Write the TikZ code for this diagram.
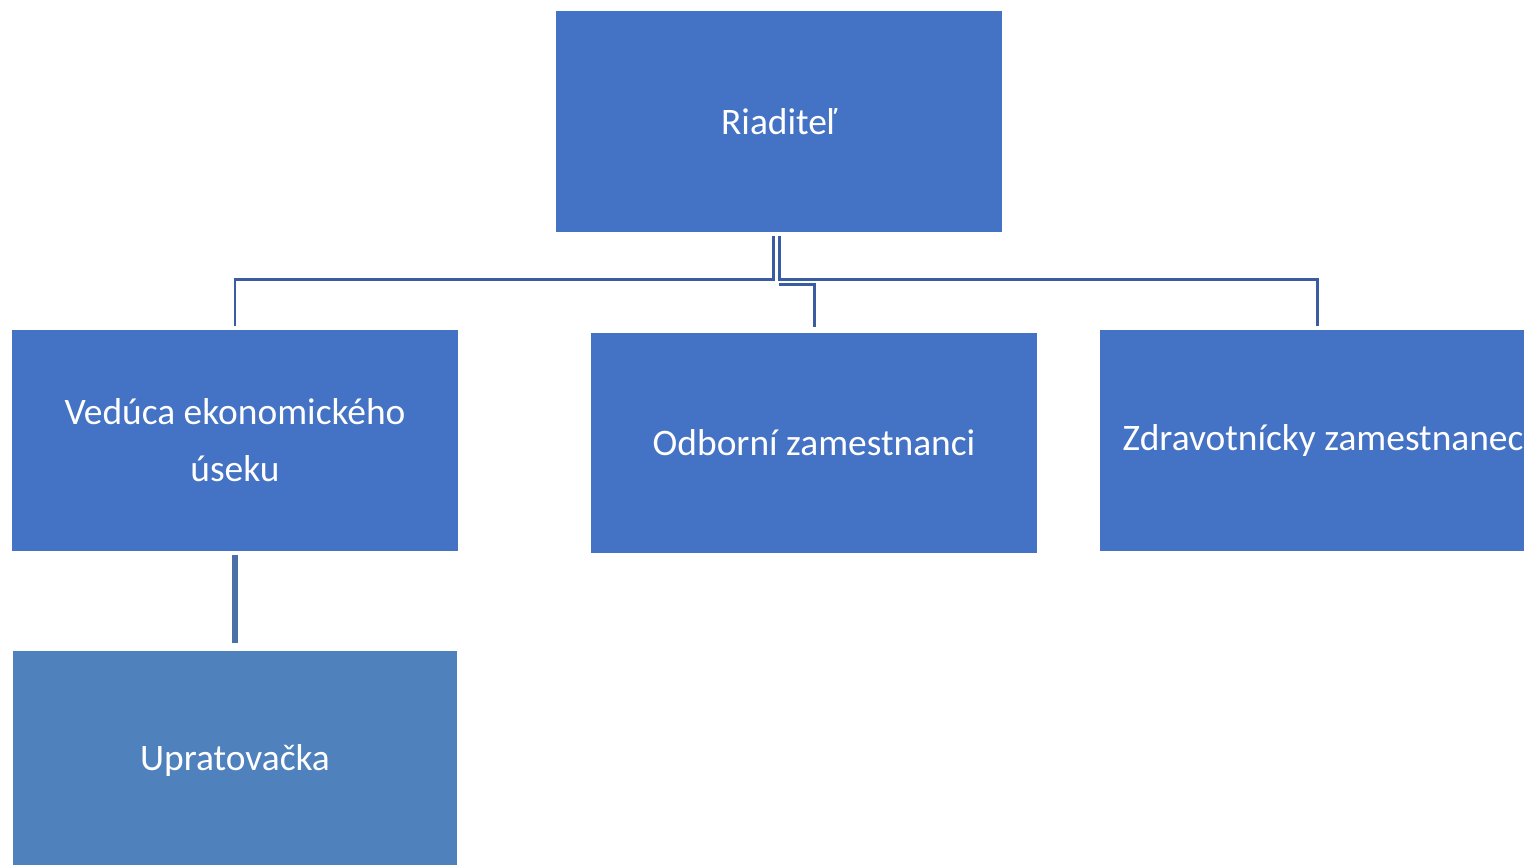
\documentclass[tikz,border=0pt]{standalone}
\usepackage{fontspec}
\setmainfont{Carlito}
\definecolor{boxblue}{HTML}{4472C4}
\definecolor{lowblue}{HTML}{4F81BD}
\definecolor{linkblue}{HTML}{3A5DA2}
\definecolor{lowlink}{HTML}{4A70A8}

\begin{document}
\begin{tikzpicture}[x=0.02cm,y=-0.02cm,
  unit/.style={fill=boxblue,text=white,minimum width=8.92cm,minimum height=4.42cm,inner sep=0pt,
    align=center,font=\fontsize{21.3}{32.3}\selectfont},
  link/.style={linkblue,line width=1.7pt}]
\useasboundingbox (0,0) rectangle (1524,865);
\node[unit] (boss) at (779,121.5) {Riadite\v{l}};
\node[unit] (veduca) at (235,440.5) {Vedúca ekonomického\\úseku};
\node[unit] (odborni) at (814,443) {Odborní zamestnanci};
\node[unit] (zdrav) at (1323,440.5) {Zdravotnícky zamestnanec};
\node[unit,fill=lowblue,minimum width=8.88cm] (uprat) at (235,761) {Upratovačka};
% spojnice
\draw[link] ([xshift=-0.12cm,yshift=-0.08cm]boss.south) |- ([yshift=1cm]veduca.north) -- ([yshift=0.08cm]veduca.north);
\draw[link] ([yshift=-0.08cm]boss.south) |- ([xshift=-0.12cm,yshift=1cm]zdrav.north) -- ([xshift=-0.12cm,yshift=0.08cm]zdrav.north);
\draw[link] ([yshift=-1.04cm]boss.south) -| ([yshift=0.1cm]odborni.north);
\draw[lowlink,line width=3.2pt] ([yshift=-0.08cm]veduca.south) -- ([yshift=0.14cm]uprat.north);
\end{tikzpicture}
\end{document}
